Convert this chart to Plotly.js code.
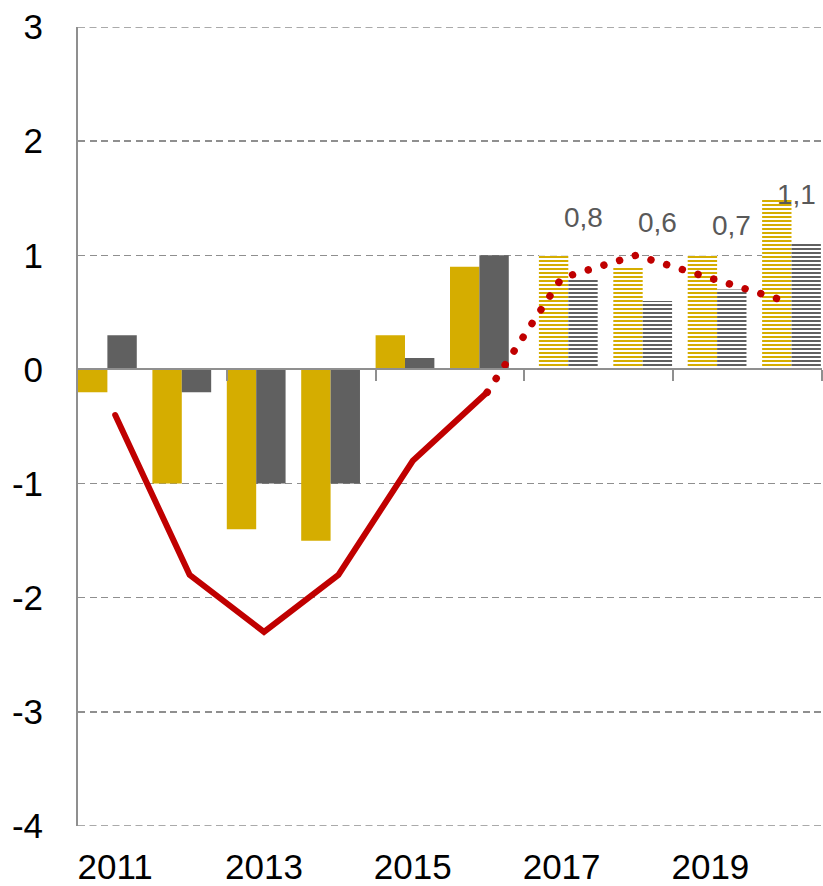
<!DOCTYPE html>
<html><head><meta charset="utf-8">
<script src="https://cdn.plot.ly/plotly-3.0.1.min.js"></script>
<style>
html,body{margin:0;padding:0;background:#fff;}
#chart{width:823px;height:886px;}
.js-line{stroke-linecap:round !important;}
</style></head><body><div id="chart"></div>
<script>
// ---- data ----
const actualYears = [2011, 2012, 2013, 2014, 2015, 2016];
const goldActual = [-0.2, -1.0, -1.4, -1.5, 0.3, 0.9];
const grayActual = [0.3, -0.2, -1.0, -1.0, 0.1, 1.0];
const forecastYears = [2017, 2018, 2019, 2020];
const goldForecast = [1.0, 0.9, 1.0, 1.5];
const grayForecast = [0.8, 0.6, 0.7, 1.1];
const lineActualYears = [2011, 2012, 2013, 2014, 2015, 2016];
const lineActual = [-0.4, -1.8, -2.3, -1.8, -0.8, -0.2];
const lineForecastYears = [2016, 2017, 2018, 2019, 2020];
const lineForecast = [-0.2, 0.8, 1.0, 0.8, 0.6];
const xTickYears = [2011, 2013, 2015, 2017, 2019];
const xTickLabels = ['2011', '2013', '2015', '2017', '2019'];
const yTickValues = [-4, -3, -2, -1, 0, 1, 2, 3];
const yTickLabels = ['-4', '-3', '-2', '-1', '0', '1', '2', '3'];

// ---- label placement (not data) ----
const labelHeights = [1.33, 1.29, 1.265, 1.53];
const labelShifts = [0.29, 0.29, 0.29, 0.16];

const GOLD = '#D5AD00', GRAY = '#606060', RED = '#C00000', AX = '#8f8f8f';
const FONT = 'Arial, "Liberation Sans", sans-serif';
const W = 0.395;
const GRIDDASH = '7px,4.5px';

const traces = [
  {type:'bar', x:actualYears, y:goldActual, offset:-0.5, width:W,
   marker:{color:GOLD, line:{width:0}}, hoverinfo:'skip'},
  {type:'bar', x:actualYears, y:grayActual, offset:-0.105, width:W,
   marker:{color:GRAY, line:{width:0}}, hoverinfo:'skip'},
  {type:'bar', x:forecastYears, y:goldForecast, offset:-0.305, width:W,
   marker:{color:GOLD, line:{width:0}, pattern:{shape:'-', bgcolor:'#ffffff', size:4, solidity:0.5}}, hoverinfo:'skip'},
  {type:'bar', x:forecastYears, y:grayForecast, offset:0.09, width:W,
   marker:{color:GRAY, line:{width:0}, pattern:{shape:'-', bgcolor:'#ffffff', size:4, solidity:0.5}}, hoverinfo:'skip'},
  {type:'scatter', mode:'lines', x:lineActualYears, y:lineActual,
   line:{color:RED, width:6}, hoverinfo:'skip'},
  {type:'scatter', mode:'lines', x:lineForecastYears, y:lineForecast, xaxis:'x2',
   line:{color:RED, width:7.5, dash:'0.01px,16.4px'}, hoverinfo:'skip'}
];

const annotations = forecastYears.map((yr, i) => ({
  x: yr + labelShifts[i], y: labelHeights[i], xref:'x', yref:'y',
  text: String(grayForecast[i]).replace('.', ','), showarrow:false,
  font:{family:FONT, size:28, color:'#595959'}, xanchor:'center', yanchor:'middle'
}));

const edgeGrid = [yTickValues[0], yTickValues[yTickValues.length - 1]].map(v => ({
  type:'line', xref:'paper', yref:'y', x0:0, x1:1, y0:v, y1:v, layer:'below',
  line:{color:AX, width:1.5, dash:GRIDDASH}
}));

const layout = {
  width:823, height:886,
  margin:{l:78, r:1, t:27, b:60},
  paper_bgcolor:'#fff', plot_bgcolor:'#fff',
  showlegend:false, barmode:'overlay',
  font:{family:FONT, color:'#000'},
  // category axis line with boundary ticks, sitting at zero
  xaxis:{range:[2010.5, 2020.5], anchor:'free', position:4/7,
    tickmode:'array', tickvals:[2012.5, 2014.5, 2016.5, 2018.5, 2020.5],
    ticks:'outside', ticklen:11, tickwidth:2, tickcolor:AX, showticklabels:false,
    showline:true, linecolor:AX, linewidth:2, showgrid:false, zeroline:false, fixedrange:true},
  // year labels at the bottom
  xaxis2:{range:[2010.5, 2020.5], overlaying:'x', anchor:'y', side:'bottom',
    tickmode:'array', tickvals:xTickYears, ticktext:xTickLabels,
    ticks:'', showgrid:false, zeroline:false, showline:false,
    tickfont:{family:FONT, size:35, color:'#000'}, ticklabelstandoff:17, fixedrange:true},
  yaxis:{range:[-4, 3], tickmode:'array', tickvals:yTickValues, ticktext:yTickLabels,
    ticks:'', showline:true, linecolor:AX, linewidth:2,
    showgrid:true, gridcolor:AX, gridwidth:1.5, griddash:GRIDDASH,
    zeroline:true, zerolinecolor:AX, zerolinewidth:2,
    tickfont:{family:FONT, size:35, color:'#000'}, ticklabelstandoff:26, fixedrange:true},
  shapes: edgeGrid,
  annotations: annotations
};

Plotly.newPlot('chart', traces, layout, {staticPlot:true, displayModeBar:false});
</script></body></html>
